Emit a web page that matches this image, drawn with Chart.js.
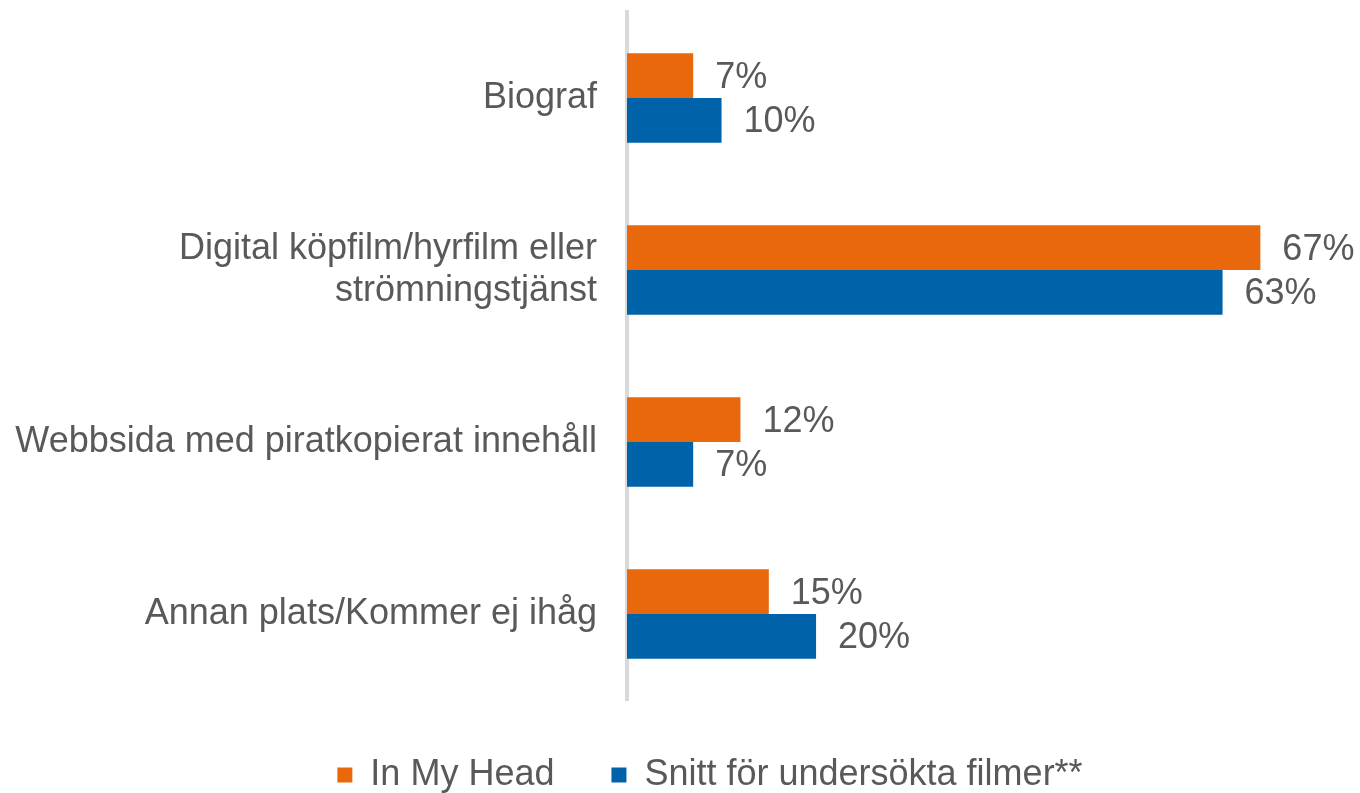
<!DOCTYPE html>
<html>
<head>
<meta charset="utf-8">
<script src="https://cdn.jsdelivr.net/npm/chart.js@4"></script>
<style>
  html, body { margin: 0; padding: 0; background: #fff; }
  #wrap { width: 1360px; height: 793px; position: relative; }
</style>
</head>
<body>
<div id="wrap"><canvas id="chart"></canvas></div>
<script>
// ─── DATA ──────────────────────────────────────────────────────────
const categories = [
    'Biograf',
    ['Digital köpfilm/hyrfilm eller', 'strömningstjänst'],
    'Webbsida med piratkopierat innehåll',
    'Annan plats/Kommer ej ihåg'
];
const seriesNames = ['In My Head', 'Snitt för undersökta filmer**'];
const inMyHead = [7, 67, 12, 15];
const snitt = [10, 63, 7, 20];

const FONT = '"Liberation Sans", Arial, sans-serif';
const TEXT = '#595959';

// ─── VALUE LABELS ──────────────────────────────────────────────────
const valueLabels = {
    id: 'valueLabels',
    afterDatasetsDraw(chart) {
        const ctx = chart.ctx;
        ctx.save();
        ctx.font = '36px ' + FONT;
        ctx.fillStyle = TEXT;
        ctx.textAlign = 'left';
        ctx.textBaseline = 'middle';
        chart.data.datasets.forEach((ds, i) => {
            chart.getDatasetMeta(i).data.forEach((bar, j) => {
                ctx.fillText(ds.data[j] + '%', bar.x + 22, bar.y + 2);
            });
        });
        ctx.restore();
    }
};

// legend sits a bit right of centre in the original
const legendShift = {
    id: 'legendShift',
    afterLayout(chart) {
        chart.legend.left += 42;
        chart.legend.right += 42;
    }
};

// ─── CHART ─────────────────────────────────────────────────────────
new Chart(document.getElementById('chart'), {
    type: 'bar',
    data: {
        labels: categories,
        datasets: [
            { label: seriesNames[0], data: inMyHead, backgroundColor: '#E9680C' },
            { label: seriesNames[1], data: snitt, backgroundColor: '#0062A9' }
        ]
    },
    plugins: [valueLabels, legendShift],
    options: {
        indexAxis: 'y',
        responsive: true, maintainAspectRatio: false,
        animation: false,
        datasets: { bar: { categoryPercentage: 0.52, barPercentage: 1.0 } },
        layout: { padding: { top: 12, right: 24, bottom: -10, left: 0 } },
        plugins: {
            tooltip: { enabled: false },
            legend: {
                position: 'bottom',
                labels: {
                    boxWidth: 15, boxHeight: 15, padding: 57,
                    color: TEXT, font: { size: 36, family: FONT }
                }
            }
        },
        scales: {
            x: { display: false, min: 0, max: 75 },
            y: {
                afterFit: s => { s.width = 627; s.paddingTop = 0; s.paddingBottom = 0; },
                grid: { display: false, drawTicks: false },
                border: { display: true, color: '#d9d9d9', width: 4 },
                ticks: { padding: 30, color: TEXT, font: { size: 36, family: FONT, lineHeight: 1.17 } }
            }
        }
    }
});
</script>
</body>
</html>
